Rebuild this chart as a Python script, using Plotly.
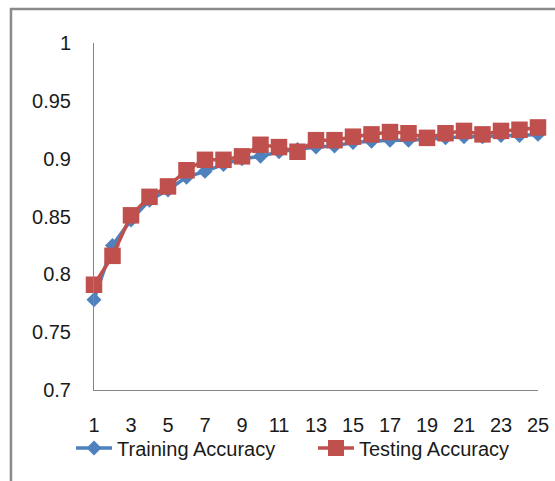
import plotly.graph_objects as go

epochs = list(range(1, 26))
training_accuracy = [0.778, 0.825, 0.847, 0.864, 0.873, 0.884, 0.889, 0.895, 0.900, 0.902,
                     0.906, 0.908, 0.910, 0.911, 0.914, 0.915, 0.916, 0.916, 0.917, 0.918,
                     0.919, 0.919, 0.920, 0.920, 0.921]
testing_accuracy = [0.791, 0.816, 0.851, 0.867, 0.876, 0.890, 0.899, 0.899, 0.902, 0.912,
                    0.910, 0.906, 0.916, 0.916, 0.919, 0.921, 0.923, 0.922, 0.918, 0.922,
                    0.924, 0.921, 0.924, 0.925, 0.927]
x_tick_vals = [1, 3, 5, 7, 9, 11, 13, 15, 17, 19, 21, 23, 25]
y_tick_vals = [0.7, 0.75, 0.8, 0.85, 0.9, 0.95, 1.0]
y_tick_text = ["0.7", "0.75", "0.8", "0.85", "0.9", "0.95", "1"]

FONT = "Liberation Sans, Arial, sans-serif"
AXIS = "#868686"
TXT = "#1a1a1a"

fig = go.Figure()
fig.add_trace(go.Scatter(
    x=epochs, y=training_accuracy, name="Training Accuracy", mode="lines+markers",
    line=dict(color="#4F81BD", width=3.5),
    marker=dict(symbol="diamond", size=11.5, color="#4F81BD"),
    cliponaxis=False, legend="legend",
))
fig.add_trace(go.Scatter(
    x=epochs, y=testing_accuracy, name="Testing Accuracy", mode="lines+markers",
    line=dict(color="#C0504D", width=3.5),
    marker=dict(symbol="square", size=16.5, color="#C0504D"),
    cliponaxis=False, legend="legend2",
))

leg_common = dict(orientation="h", xanchor="left", y=-0.167, yanchor="middle",
                  font=dict(family=FONT, size=20, color=TXT),
                  bgcolor="rgba(0,0,0,0)", itemwidth=36)

fig.update_layout(
    width=555, height=481,
    margin=dict(l=94, r=17, t=43, b=91, autoexpand=False),
    paper_bgcolor="white", plot_bgcolor="white",
    font=dict(family=FONT, size=20, color=TXT),
    showlegend=True,
    legend=dict(x=(71 - 94) / 444, **leg_common),
    legend2=dict(x=(313 - 94) / 444, **leg_common),
    xaxis=dict(range=[1, 25], tickmode="array", tickvals=x_tick_vals,
               showgrid=False, zeroline=False, showline=True, linecolor=AXIS, linewidth=1,
               ticks="", ticklabelstandoff=17, tickfont=dict(size=20), automargin=False),
    yaxis=dict(range=[0.7, 1.0], tickmode="array", tickvals=y_tick_vals, ticktext=y_tick_text,
               showgrid=False, zeroline=False, showline=True, linecolor=AXIS, linewidth=1,
               ticks="", ticklabelstandoff=18, tickfont=dict(size=20), automargin=False),
    shapes=[dict(type="rect", xref="paper", yref="paper",
                 x0=-0.187, x1=1.2, y0=-0.35, y1=1.098,
                 line=dict(color="#8a8a8a", width=2.5), fillcolor="rgba(0,0,0,0)",
                 layer="below")],
)

fig.write_html("out.html", config={"displayModeBar": False},
               post_script="document.body.style.margin='0';document.body.style.overflow='hidden';")
